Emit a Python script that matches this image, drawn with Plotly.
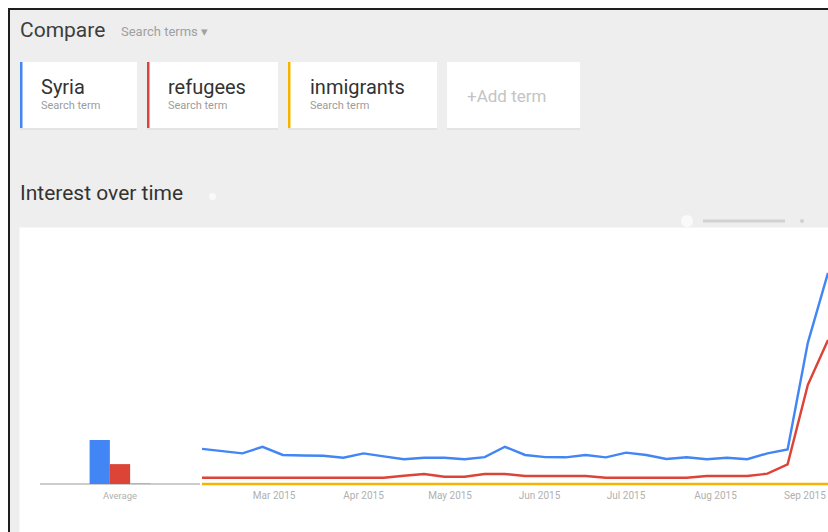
import plotly.graph_objects as go

# ---------------- data ----------------
weeks = ["2015-02-04", "2015-02-11", "2015-02-18", "2015-02-25",
         "2015-03-04", "2015-03-11", "2015-03-18", "2015-03-25",
         "2015-04-01", "2015-04-08", "2015-04-15", "2015-04-22", "2015-04-29",
         "2015-05-06", "2015-05-13", "2015-05-20", "2015-05-27",
         "2015-06-03", "2015-06-10", "2015-06-17", "2015-06-24",
         "2015-07-01", "2015-07-08", "2015-07-15", "2015-07-22", "2015-07-29",
         "2015-08-05", "2015-08-12", "2015-08-19", "2015-08-26",
         "2015-09-02", "2015-09-09"]
syria = [15.0, 14.1, 13.1, 15.9, 12.4, 12.2, 12.1, 11.2, 13.1, 11.8, 10.6, 11.2,
         11.2, 10.6, 11.5, 15.9, 12.4, 11.5, 11.4, 12.4, 11.4, 13.4, 12.4, 10.7,
         11.4, 10.6, 11.2, 10.6, 13.1, 14.8, 60.3, 90.2]
refugees = [2.7, 2.7, 2.7, 2.7, 2.7, 2.7, 2.7, 2.7, 2.7, 2.7, 3.5, 4.3,
            3.1, 3.1, 4.3, 4.3, 3.4, 3.4, 3.4, 3.4, 2.7, 2.7, 2.7, 2.7,
            2.7, 3.4, 3.4, 3.4, 4.4, 8.4, 42.3, 61.5]
inmigrants = [0] * 32

avg_label = ["Average"]
avg_syria = [18.8]
avg_refugees = [8.5]
avg_inmigrants = [0.4]

tick_vals = ["2015-03-01", "2015-04-01", "2015-05-01", "2015-06-01",
             "2015-07-01", "2015-08-01", "2015-09-01"]
tick_text = ["Mar 2015", "Apr 2015", "May 2015", "Jun 2015",
             "Jul 2015", "Aug 2015", "Sep 2015"]

terms = ["Syria", "refugees", "inmigrants"]
BLUE, RED, YELLOW = "#4285f4", "#db4437", "#f4b400"
colors = [BLUE, RED, YELLOW]

# ---------------- geometry helpers (screen px -> paper) ----------------
OFF = 0
FIG_W, FIG_H = 828, 532
B = 44                      # bottom margin
PLOT_BOTTOM = OFF + FIG_H - B   # screen y of plot-area bottom
PLOT_H = FIG_H - B


def PX(x):
    return (x - OFF) / FIG_W


def PY(y):
    return (PLOT_BOTTOM - y) / PLOT_H


FONT = "Roboto"
fig = go.Figure()

# average bars
for name, val, c in zip(terms, [avg_syria, avg_refugees, avg_inmigrants], colors):
    fig.add_trace(go.Bar(x=avg_label, y=val, name=name, marker_color=c,
                         marker_line_width=0, xaxis="x", yaxis="y",
                         showlegend=False, hoverinfo="skip"))

# lines
for name, val, c in zip(terms, [syria, refugees, inmigrants], colors):
    fig.add_trace(go.Scatter(x=weeks, y=val, name=name, mode="lines",
                             line=dict(color=c, width=2.4), xaxis="x2", yaxis="y",
                             showlegend=False, hoverinfo="skip"))

shapes = []


def rect(x0, y0, x1, y1, fill, layer="below"):
    shapes.append(dict(type="rect", xref="paper", yref="paper",
                       x0=PX(x0), x1=PX(x1), y0=PY(y1), y1=PY(y0),
                       fillcolor=fill, line=dict(width=0), layer=layer))


# page backgrounds
rect(9, 9, 830, 534, "#eeeeee")
rect(19, 227, 830, 534, "#f6f6f6")
rect(20, 228, 830, 534, "#ffffff")

# term cards
cards = [(20, 137), (147, 278), (288, 437), (447, 580)]
for i, (x0, x1) in enumerate(cards):
    rect(x0, 63, x1, 130, "#e3e3e3")
    rect(x0, 62, x1, 128, "#ffffff")
    if i < 3:
        rect(x0, 62, x0 + 2.5, 128, colors[i])

# small controls
shapes.append(dict(type="line", xref="paper", yref="paper",
                   x0=PX(703), x1=PX(785), y0=PY(221), y1=PY(221),
                   line=dict(color="#d2d2d2", width=3), layer="below"))
shapes.append(dict(type="circle", xref="paper", yref="paper",
                   x0=PX(800), x1=PX(804), y0=PY(223), y1=PY(219),
                   fillcolor="#d0d0d0", line=dict(width=0), layer="below"))
shapes.append(dict(type="circle", xref="paper", yref="paper",
                   x0=PX(681), x1=PX(693), y0=PY(227), y1=PY(215),
                   fillcolor="#fafafa", line=dict(width=0), layer="below"))
shapes.append(dict(type="circle", xref="paper", yref="paper",
                   x0=PX(209), x1=PX(216), y0=PY(200), y1=PY(193),
                   fillcolor="#f9f9f9", line=dict(width=0), layer="below"))

# frame border
shapes.append(dict(type="line", xref="paper", yref="paper",
                   x0=PX(9), x1=PX(9), y0=PY(8), y1=PY(540),
                   line=dict(color="#1e1e1e", width=2), layer="above"))
shapes.append(dict(type="line", xref="paper", yref="paper",
                   x0=PX(8), x1=PX(840), y0=PY(9), y1=PY(9),
                   line=dict(color="#1e1e1e", width=2), layer="above"))

annotations = []


def text(x, y, s, size, color):
    annotations.append(dict(xref="paper", yref="paper", x=PX(x), y=PY(y),
                            xanchor="left", yanchor="middle", text=s,
                            showarrow=False, borderpad=0,
                            font=dict(family=FONT, size=size, color=color)))


text(19, 30, "Compare", 21, "#3d3d3d")
text(120, 32, "Search terms ▾", 13, "#a0a0a0")
title_x = [40, 167, 309]
for tx, t in zip(title_x, terms):
    text(tx, 87, t, 20, "#333333")
    text(tx, 106, "Search term", 11, "#9c9c9c")
text(466, 96, "+Add term", 17, "#c4c4c4")
text(19, 193, "Interest over time", 21, "#333333")

PX_PER_UNIT = 2.34
y_min = -(PLOT_BOTTOM - 484) / PX_PER_UNIT

fig.update_layout(
    width=FIG_W, height=FIG_H,
    margin=dict(l=0, r=0, t=0, b=B),
    paper_bgcolor="#ffffff",
    plot_bgcolor="rgba(0,0,0,0)",
    barmode="group", bargap=0.62, bargroupgap=0,
    font=dict(family=FONT),
    shapes=shapes,
    annotations=annotations,
    hovermode=False,
    xaxis=dict(domain=[PX(40), PX(200)], type="category", anchor="y",
               showgrid=False, showline=False, ticks="", fixedrange=True,
               tickfont=dict(family=FONT, size=9.5, color="#b0b0b0")),
    xaxis2=dict(domain=[PX(202), 1.0], type="date", anchor="y",
                range=[weeks[0], weeks[-1]], showgrid=False, showline=False,
                zeroline=False, ticks="", tickmode="array",
                tickvals=tick_vals, ticktext=tick_text,
                tickfont=dict(family=FONT, size=10, color="#b0b0b0")),
    yaxis=dict(domain=[0, PY(250)], range=[y_min, 100], showgrid=False,
               showticklabels=False, showline=False, ticks="",
               zeroline=True, zerolinecolor="#cccccc", zerolinewidth=1.5),
)

fig.write_html(
    "out.html",
    config={"displayModeBar": False},
    post_script=("document.documentElement.style.margin='0';"
                 "document.body.style.margin='0';"
                 "document.body.style.overflow='hidden';"
                 "document.documentElement.style.overflow='hidden';"),
)
